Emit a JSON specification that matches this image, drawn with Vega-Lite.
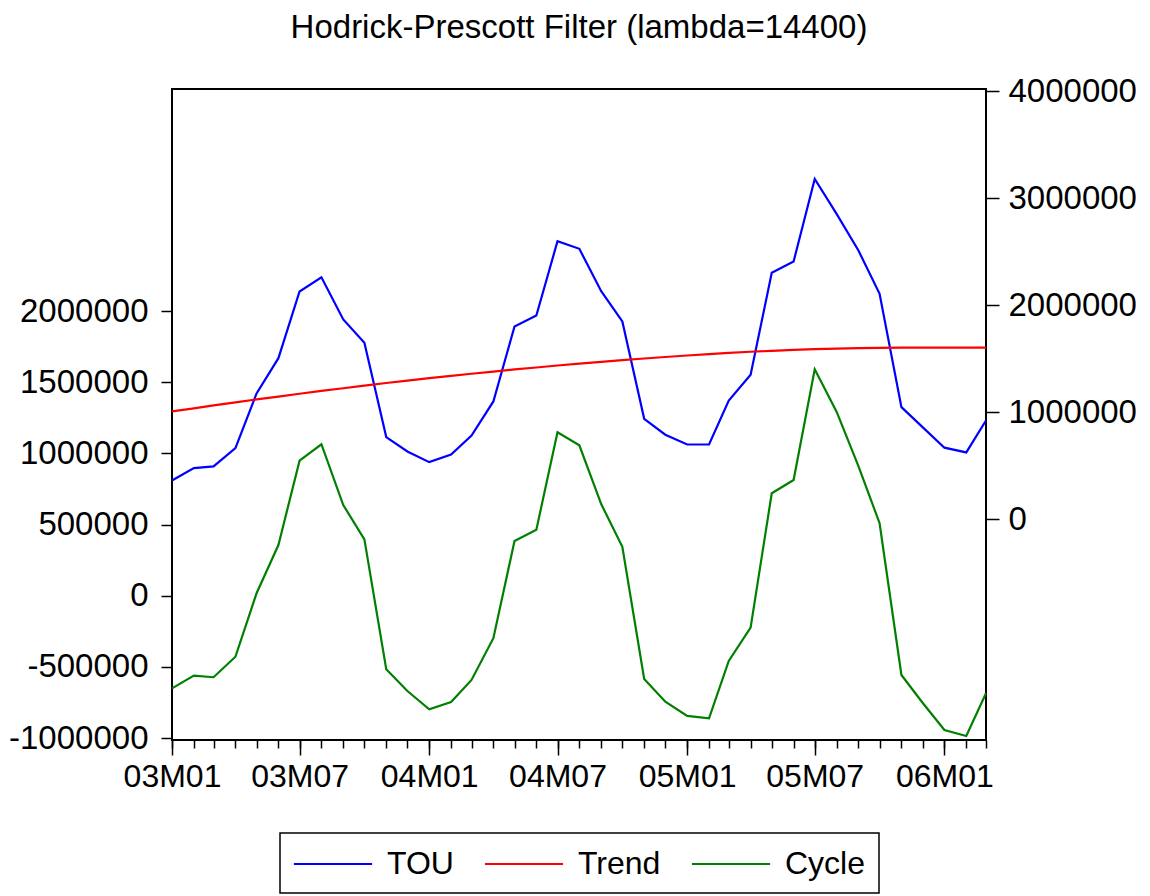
{
  "$schema": "https://vega.github.io/schema/vega-lite/v6.json",
  "autosize": "none",
  "width": 814,
  "height": 651,
  "padding": {"left": 172, "top": 89, "right": 164, "bottom": 156},
  "background": "white",
  "title": {
    "text": "Hodrick-Prescott Filter (lambda=14400)",
    "fontSize": 33,
    "font": "Liberation Sans",
    "fontWeight": "normal",
    "color": "black",
    "anchor": "middle",
    "offset": 30
  },
  "config": {
    "font": "Liberation Sans",
    "view": {"stroke": "black", "strokeWidth": 2},
    "axis": {
      "labelFont": "Liberation Sans",
      "labelFontSize": 33,
      "labelColor": "black",
      "tickColor": "black",
      "tickWidth": 1.5,
      "grid": false,
      "domain": false,
      "title": null
    },
    "legend": {"strokeWidth": 1.5}
  },
  "data": {
    "values": [
      {"date": "2003-01-01", "TOU": 362000, "Trend": 1007000, "Cycle": -651000},
      {"date": "2003-02-01", "TOU": 477000, "Trend": 1035000, "Cycle": -562000},
      {"date": "2003-03-01", "TOU": 493000, "Trend": 1063000, "Cycle": -573000},
      {"date": "2003-04-01", "TOU": 664000, "Trend": 1091000, "Cycle": -429000},
      {"date": "2003-05-01", "TOU": 1175000, "Trend": 1119000, "Cycle": 17000},
      {"date": "2003-06-01", "TOU": 1504000, "Trend": 1145000, "Cycle": 356000},
      {"date": "2003-07-01", "TOU": 2127000, "Trend": 1172000, "Cycle": 949000},
      {"date": "2003-08-01", "TOU": 2260000, "Trend": 1198000, "Cycle": 1064000},
      {"date": "2003-09-01", "TOU": 1866000, "Trend": 1223000, "Cycle": 637000},
      {"date": "2003-10-01", "TOU": 1648000, "Trend": 1247000, "Cycle": 396000},
      {"date": "2003-11-01", "TOU": 767000, "Trend": 1272000, "Cycle": -517000},
      {"date": "2003-12-01", "TOU": 633000, "Trend": 1294000, "Cycle": -670000},
      {"date": "2004-01-01", "TOU": 533000, "Trend": 1317000, "Cycle": -798000},
      {"date": "2004-02-01", "TOU": 605000, "Trend": 1338000, "Cycle": -747000},
      {"date": "2004-03-01", "TOU": 782000, "Trend": 1359000, "Cycle": -592000},
      {"date": "2004-04-01", "TOU": 1100000, "Trend": 1379000, "Cycle": -299000},
      {"date": "2004-05-01", "TOU": 1800000, "Trend": 1399000, "Cycle": 384000},
      {"date": "2004-06-01", "TOU": 1903000, "Trend": 1417000, "Cycle": 464000},
      {"date": "2004-07-01", "TOU": 2597000, "Trend": 1436000, "Cycle": 1148000},
      {"date": "2004-08-01", "TOU": 2526000, "Trend": 1453000, "Cycle": 1057000},
      {"date": "2004-09-01", "TOU": 2130000, "Trend": 1470000, "Cycle": 644000},
      {"date": "2004-10-01", "TOU": 1847000, "Trend": 1486000, "Cycle": 344000},
      {"date": "2004-11-01", "TOU": 938000, "Trend": 1501000, "Cycle": -585000},
      {"date": "2004-12-01", "TOU": 789000, "Trend": 1515000, "Cycle": -745000},
      {"date": "2005-01-01", "TOU": 698000, "Trend": 1529000, "Cycle": -845000},
      {"date": "2005-02-01", "TOU": 698000, "Trend": 1542000, "Cycle": -862000},
      {"date": "2005-03-01", "TOU": 1109000, "Trend": 1554000, "Cycle": -458000},
      {"date": "2005-04-01", "TOU": 1349000, "Trend": 1564000, "Cycle": -225000},
      {"date": "2005-05-01", "TOU": 2302000, "Trend": 1573000, "Cycle": 720000},
      {"date": "2005-06-01", "TOU": 2407000, "Trend": 1582000, "Cycle": 813000},
      {"date": "2005-07-01", "TOU": 3179000, "Trend": 1588000, "Cycle": 1591000},
      {"date": "2005-08-01", "TOU": 2852000, "Trend": 1594000, "Cycle": 1293000},
      {"date": "2005-09-01", "TOU": 2510000, "Trend": 1598000, "Cycle": 911000},
      {"date": "2005-10-01", "TOU": 2106000, "Trend": 1600000, "Cycle": 509000},
      {"date": "2005-11-01", "TOU": 1047000, "Trend": 1602000, "Cycle": -557000},
      {"date": "2005-12-01", "TOU": 860000, "Trend": 1603000, "Cycle": -752000},
      {"date": "2006-01-01", "TOU": 668000, "Trend": 1603000, "Cycle": -944000},
      {"date": "2006-02-01", "TOU": 624000, "Trend": 1603000, "Cycle": -986000},
      {"date": "2006-03-01", "TOU": 922000, "Trend": 1602000, "Cycle": -686000}
    ]
  },
  "layer": [
    {
      "mark": {"type": "line", "strokeWidth": 2.2},
      "encoding": {
        "x": {
          "field": "date",
          "type": "temporal",
          "scale": {
            "type": "utc",
            "domain": [
              {"year": 2003, "month": 1, "date": 1, "utc": true},
              {"year": 2006, "month": 3, "date": 1, "utc": true}
            ]
          },
          "axis": {
            "orient": "bottom",
            "tickCount": {"interval": "month", "step": 6},
            "labelExpr": "utcFormat(datum.value, '%y') + 'M' + utcFormat(datum.value, '%m')",
            "labelFontSize": 32,
            "tickSize": 15,
            "labelPadding": 6,
            "labelFlush": false,
            "labelOverlap": false,
            "labelAlign": "center"
          }
        },
        "y": {
          "field": "Cycle",
          "type": "quantitative",
          "scale": {"domain": [-1014000, 3560000], "nice": false, "zero": false},
          "axis": {
            "orient": "left",
            "values": [-1000000, -500000, 0, 500000, 1000000, 1500000, 2000000],
            "labelExpr": "toString(datum.value)",
            "tickSize": 11,
            "labelPadding": 13
          }
        },
        "color": {
          "datum": "Cycle",
          "type": "nominal",
          "scale": {
            "domain": ["TOU", "Trend", "Cycle"],
            "range": ["#0000FF", "#FF0000", "#008000"]
          },
          "legend": {
            "orient": "none",
            "legendX": 108,
            "legendY": 744,
            "direction": "horizontal",
            "title": null,
            "symbolType": "M-2.3,0H2.3",
            "symbolSize": 1156,
            "symbolOffset": 22,
            "symbolStrokeWidth": 2,
            "labelFontSize": 32,
            "labelFont": "Liberation Sans",
            "labelColor": "black",
            "labelOffset": 36,
            "columnPadding": 26,
            "padding": 13,
            "strokeColor": "black",
            "fillColor": "white"
          }
        }
      }
    },
    {
      "transform": [{"fold": ["TOU", "Trend"], "as": ["series", "value"]}],
      "mark": {"type": "line", "strokeWidth": 2.2},
      "encoding": {
        "x": {
          "field": "date",
          "type": "temporal",
          "scale": {
            "type": "utc",
            "domain": [
              {"year": 2003, "month": 1, "date": 1, "utc": true},
              {"year": 2006, "month": 3, "date": 1, "utc": true}
            ]
          },
          "axis": {
            "orient": "bottom",
            "tickCount": {"interval": "month", "step": 1},
            "labels": false,
            "tickSize": 8
          }
        },
        "y": {
          "field": "value",
          "type": "quantitative",
          "scale": {"domain": [-2062600, 4018700], "nice": false, "zero": false},
          "axis": {
            "orient": "right",
            "values": [0, 1000000, 2000000, 3000000, 4000000],
            "labelExpr": "toString(datum.value)",
            "tickSize": 13,
            "labelPadding": 9
          }
        },
        "color": {"field": "series", "type": "nominal", "legend": {"title": null}}
      }
    }
  ],
  "resolve": {
    "scale": {"y": "independent"},
    "axis": {"x": "independent", "y": "independent"}
  }
}
